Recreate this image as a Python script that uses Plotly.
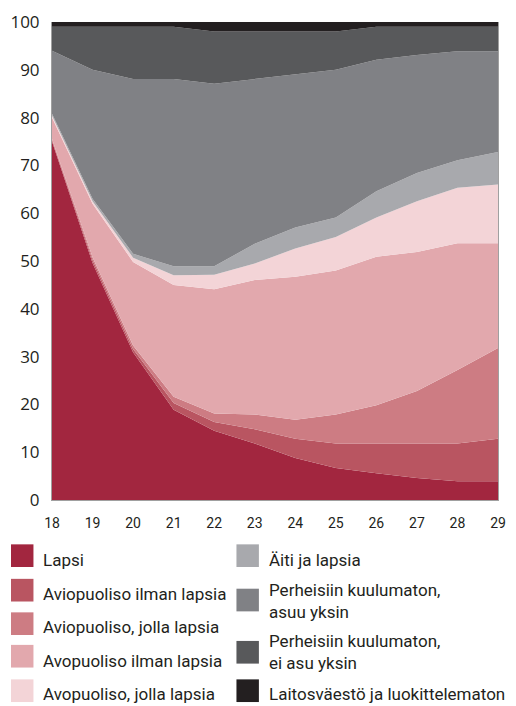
import plotly.graph_objects as go

ages = [18, 19, 20, 21, 22, 23, 24, 25, 26, 27, 28, 29]
age_labels = [str(a) for a in ages]

series_names = [
    "Lapsi",
    "Aviopuoliso ilman lapsia",
    "Aviopuoliso, jolla lapsia",
    "Avopuoliso ilman lapsia",
    "Avopuoliso, jolla lapsia",
    "Äiti ja lapsia",
    "Perheisiin kuulumaton,<br>asuu yksin",
    "Perheisiin kuulumaton,<br>ei asu yksin",
    "Laitosväestö ja luokittelematon",
]

lapsi = [75.0, 49.6, 30.9, 18.9, 14.5, 11.8, 8.8, 6.7, 5.6, 4.6, 3.9, 3.9]
avio_ilman = [0.3, 0.6, 0.7, 1.4, 1.8, 3.0, 4.0, 5.1, 6.2, 7.2, 7.9, 8.9]
avio_jolla = [0.3, 0.6, 0.7, 1.3, 1.8, 3.1, 4.0, 6.1, 8.0, 11.0, 15.4, 19.0]
avo_ilman = [4.4, 11.2, 17.5, 23.4, 26.0, 28.1, 29.9, 30.1, 31.1, 29.1, 26.5, 21.9]
avo_jolla = [0.4, 0.5, 0.9, 2.0, 3.0, 3.5, 5.9, 7.0, 8.2, 10.6, 11.6, 12.3]
aiti = [0.4, 0.5, 0.8, 1.9, 1.8, 4.1, 4.4, 4.1, 5.5, 5.9, 5.8, 6.8]
asuu_yksin = [13.2, 27.0, 36.6, 39.2, 38.2, 34.5, 32.0, 30.9, 27.5, 24.7, 22.8, 21.1]
ei_asu_yksin = [5.0, 9.0, 10.9, 10.9, 10.9, 9.9, 9.0, 8.0, 6.9, 5.9, 5.1, 5.1]
laitos = [1.0, 1.0, 1.0, 1.0, 2.0, 2.0, 2.0, 2.0, 1.0, 1.0, 1.0, 1.0]

series_values = [lapsi, avio_ilman, avio_jolla, avo_ilman, avo_jolla, aiti,
                 asuu_yksin, ei_asu_yksin, laitos]

colors = ["#a2263f", "#b95561", "#cd7c83", "#e2a8ad", "#f3d4d7",
          "#a8a9ad", "#808185", "#58595b", "#231f20"]

y_ticks = list(range(0, 101, 10))

fig = go.Figure()
for name, vals, col in zip(series_names, series_values, colors):
    fig.add_trace(go.Scatter(
        x=ages, y=vals, name=name, stackgroup="one", mode="lines",
        line=dict(width=0, color=col), fillcolor=col, showlegend=False,
        hoverinfo="skip",
    ))

W, H = 516, 706
L, R, T, B = 49, 10, 15, 206
pw, ph = W - L - R, H - T - B


def px2x(px):
    return (px - L) / pw


def py2y(py):
    return (H - B - py) / ph


text_color = "#231f20"
legend_font = dict(family="Roboto", size=17, color=text_color)

shapes = []
annotations = []
# legend layout: (swatch x, text x, swatch top, text center y)
left_rows = [545, 580, 614, 647, 682]
left_text = [560.7, 595, 629, 663, 696.7]
right_rows = [545, 590, 643, 682]
right_text = [560.7, 602.5, 654.7, 696.7]
slots = ([(7, 38, r, t) for r, t in zip(left_rows, left_text)] +
         [(238, 269, r, t) for r, t in zip(right_rows, right_text)])
for (sx, tx, sy, ty), name, col in zip(slots, series_names, colors):
    shapes.append(dict(type="rect", xref="paper", yref="paper",
                       x0=px2x(sx), x1=px2x(sx + 23), y0=py2y(sy), y1=py2y(sy + 23),
                       fillcolor=col, line=dict(width=0)))
    annotations.append(dict(xref="paper", yref="paper", x=px2x(tx), y=py2y(ty),
                            xanchor="left", yanchor="middle", showarrow=False,
                            align="left", text=name, font=legend_font))

fig.update_layout(
    width=W, height=H,
    margin=dict(l=L, r=R, t=T, b=B),
    paper_bgcolor="white", plot_bgcolor="white",
    showlegend=False,
    shapes=shapes, annotations=annotations,
    xaxis=dict(range=[18, 29], tickvals=ages, ticktext=age_labels,
               showgrid=False, zeroline=False, showline=True,
               linecolor="#a0a0a0", linewidth=1, ticks="",
               ticklabelstandoff=10,
               tickfont=dict(family="Roboto", size=14, color=text_color)),
    yaxis=dict(range=[0, 100], tickvals=y_ticks, showgrid=False, zeroline=False,
               showline=True, mirror=True, linecolor="#a0a0a0", linewidth=1,
               ticks="", ticklabelstandoff=8,
               tickfont=dict(family="Open Sans", size=17, color=text_color)),
)

fig.write_html("out.html", config={"displayModeBar": False},
               post_script="document.body.style.margin='0';")
